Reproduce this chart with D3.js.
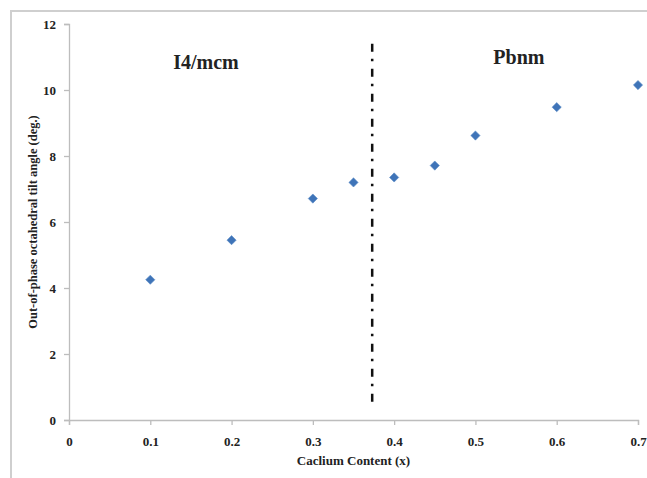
<!DOCTYPE html>
<html>
<head>
<meta charset="utf-8">
<script src="https://cdn.jsdelivr.net/npm/d3@7"></script>
<style>
  html, body { margin: 0; padding: 0; background: #fff; }
  svg { display: block; }
  text { font-family: "Liberation Serif", "Times New Roman", serif; font-weight: bold; fill: #222; }
</style>
</head>
<body>
<svg id="chart" width="647" height="478"></svg>
<script>
// Calcium content (x) and out-of-phase octahedral tilt angle (deg.)
const calcium = [0.1, 0.2, 0.3, 0.35, 0.4, 0.45, 0.5, 0.6, 0.7];
const tiltAngle = [4.25, 5.45, 6.71, 7.2, 7.35, 7.71, 8.62, 9.48, 10.15];
const xTicks = [0, 0.1, 0.2, 0.3, 0.4, 0.5, 0.6, 0.7];
const yTicks = [0, 2, 4, 6, 8, 10, 12];
const phaseBoundary = [0.373];
const phaseLabels = ["I4/mcm", "Pbnm"];
const phaseLabelX = [0.1685, 0.5535];
const phaseLabelY = [10.65, 10.8];

const svg = d3.select("#chart");
const W = 647, H = 478;
const margin = { left: 69, right: 9, top: 24, bottom: 58 };

const x = d3.scaleLinear().domain([0, 0.7]).range([margin.left, W - margin.right]);
const y = d3.scaleLinear().domain([0, 12]).range([H - margin.bottom, margin.top]);

// outer chart frame
svg.append("rect")
  .attr("x", 11).attr("y", 11)
  .attr("width", W + 20).attr("height", H + 20)
  .attr("fill", "none").attr("stroke", "#cfcfcf").attr("stroke-width", 2);

const axisColor = "#bdbdbd";

// x axis
const gx = svg.append("g")
  .attr("transform", `translate(0,${y(0)})`)
  .call(d3.axisBottom(x).tickValues(xTicks).tickSize(5).tickPadding(12)
    .tickFormat(d => d === 0 ? "0" : d3.format(".1f")(d)));
gx.select(".domain").attr("stroke", axisColor).attr("stroke-width", 1.3);
gx.selectAll(".tick line").attr("stroke", axisColor).attr("stroke-width", 1.3);
gx.selectAll(".tick text").attr("font-size", 13).attr("fill", "#222")
  .attr("font-family", "Liberation Serif, serif").attr("font-weight", "bold");

// y axis
const gy = svg.append("g")
  .attr("transform", `translate(${x(0)},0)`)
  .call(d3.axisLeft(y).tickValues(yTicks).tickSize(5).tickPadding(8));
gy.select(".domain").attr("stroke", axisColor).attr("stroke-width", 1.3);
gy.selectAll(".tick line").attr("stroke", axisColor).attr("stroke-width", 1.3);
gy.selectAll(".tick text").attr("font-size", 13).attr("fill", "#222")
  .attr("font-family", "Liberation Serif, serif").attr("font-weight", "bold");

// axis titles
svg.append("text")
  .attr("x", (x(0) + x(0.7)) / 2)
  .attr("y", 465)
  .attr("text-anchor", "middle")
  .attr("font-size", 13)
  .text("Caclium Content (x)");

svg.append("text")
  .attr("transform", `translate(37,${(y(0) + y(12)) / 2}) rotate(-90)`)
  .attr("text-anchor", "middle")
  .attr("font-size", 12.5)
  .text("Out-of-phase octahedral tilt angle (deg.)");

// phase boundary (dash-dot)
svg.selectAll("line.boundary")
  .data(phaseBoundary)
  .enter().append("line")
  .attr("class", "boundary")
  .attr("x1", d => x(d)).attr("x2", d => x(d))
  .attr("y1", y(11.4)).attr("y2", y(0.45))
  .attr("stroke", "#111").attr("stroke-width", 2.5)
  .attr("stroke-dasharray", "8,7,2.5,7.5");

// phase labels
svg.selectAll("text.phase")
  .data(phaseLabels)
  .enter().append("text")
  .attr("class", "phase")
  .attr("x", (d, i) => x(phaseLabelX[i]))
  .attr("y", (d, i) => y(phaseLabelY[i]))
  .attr("text-anchor", "middle")
  .attr("font-size", 20)
  .text(d => d);

// data markers (diamonds)
const diamond = d3.symbol().type(d3.symbolDiamond2).size(54);
svg.selectAll("path.pt")
  .data(calcium.map((c, i) => [c, tiltAngle[i]]))
  .enter().append("path")
  .attr("class", "pt")
  .attr("transform", d => `translate(${x(d[0])},${y(d[1])})`)
  .attr("d", diamond)
  .attr("fill", "#3f74b8")
  .attr("stroke", "#5b8bc6").attr("stroke-width", 0.6);
</script>
</body>
</html>
